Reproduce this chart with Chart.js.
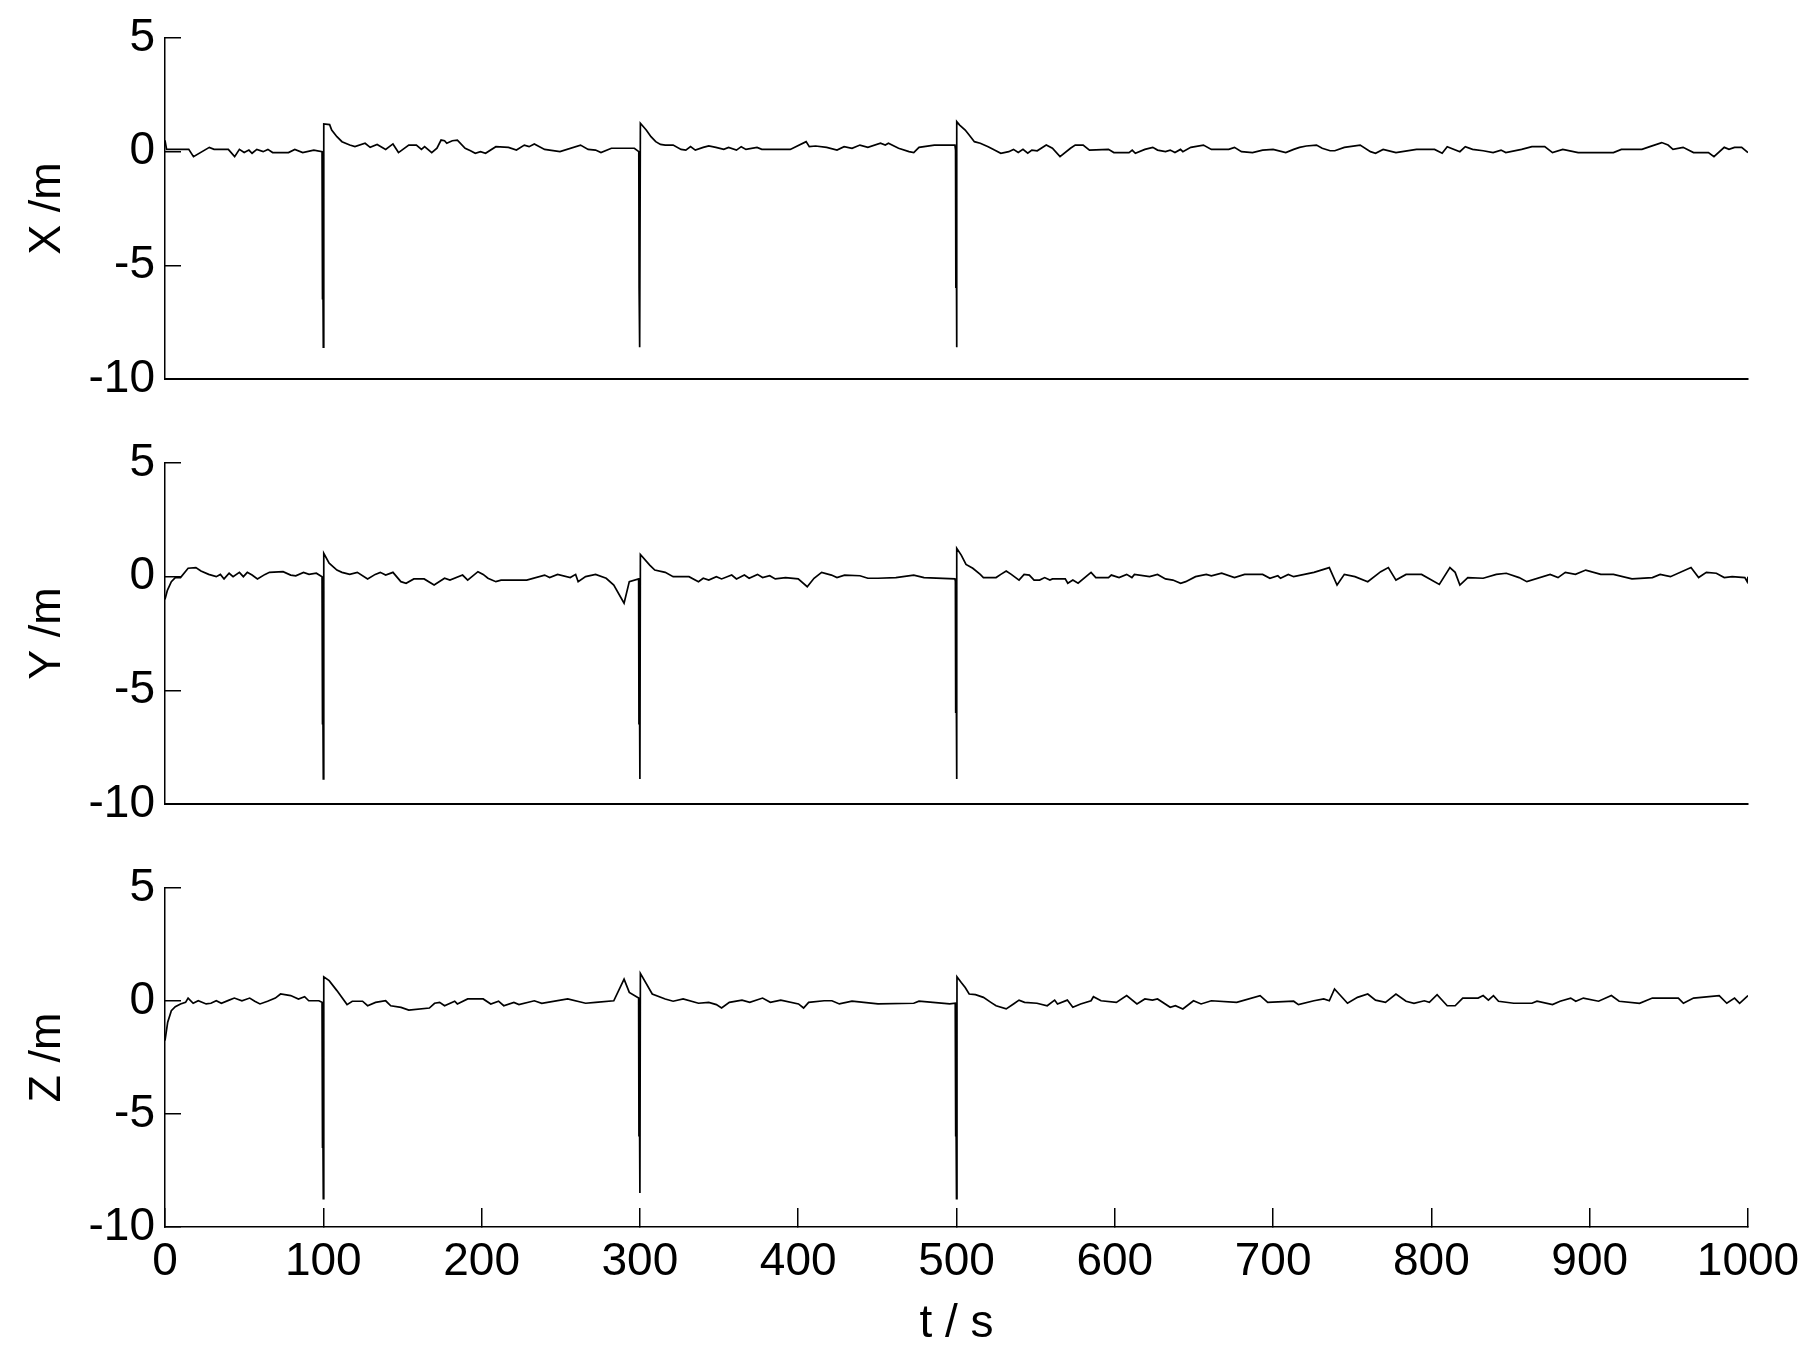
<!DOCTYPE html>
<html>
<head>
<meta charset="utf-8">
<script src="https://cdn.jsdelivr.net/npm/chart.js@4.4.1/dist/chart.umd.min.js"></script>
<style>
  html, body { margin: 0; padding: 0; background: #ffffff; }
  body { width: 1816px; height: 1360px; position: relative; overflow: hidden; }
  canvas { position: absolute; left: 0; }
</style>
</head>
<body>
<canvas id="cX" width="1816" height="420" style="top:0px"></canvas>
<canvas id="cY" width="1816" height="420" style="top:420px"></canvas>
<canvas id="cZ" width="1816" height="520" style="top:840px"></canvas>
<script>
// ---------------- DATA ----------------
const xTickValues = [0, 100, 200, 300, 400, 500, 600, 700, 800, 900, 1000];
const yTickValues = [-10, -5, 0, 5];
const panelTitles = ['X /m', 'Y /m', 'Z /m'];
const timeTitle = 't / s';

// X /m
const xTimes = [0, 1, 15, 18, 28, 31, 40, 44, 47, 50, 53, 55, 58, 62, 65, 68, 78, 82, 87, 94, 99.2,
  99.4, 99.6, 100, 100.3, 104, 105.3, 108.6, 111.8, 116.7, 120, 126.4, 129.6, 134, 139.4, 144, 147.5, 154, 158.8,
  162, 164, 168.5, 171.8, 174.4, 176.6, 178, 181.5, 184.7, 189.6, 193, 196, 199.3, 202.5, 209, 217, 222, 227,
  230, 233.3, 239.8, 243, 249.5, 262.5, 267.3, 272, 275.4, 282, 296.5, 299.3,
  299.5, 299.7, 300, 300.3, 304, 307, 310, 313, 316, 321, 326, 329, 332, 335, 340, 343.5, 348, 353, 356, 361,
  364, 367, 374, 377, 395, 405, 407, 411, 418, 424.5, 429, 434, 439, 444, 452, 455, 457, 463.4, 470, 473,
  476.3, 486, 499, 499.4,
  499.6, 499.8, 500, 500.3, 502, 505.5, 508, 511.3, 515, 520, 524, 528, 533, 536, 539, 542, 545, 547.6, 551,
  556.7, 560.6, 565.4, 572, 575, 580, 584, 596, 599.4, 609, 611, 613, 619, 624, 627, 632, 635, 638, 641.5,
  643, 648, 656, 661, 672, 675.6, 680, 687, 693.4, 700, 708, 713, 716.7, 721, 727.4, 731, 736, 739, 745,
  755, 761.5, 764.7, 769.5, 777.6, 790.6, 802, 806.8, 810, 818, 821.4, 826, 832.7, 839, 844, 847, 857,
  863.5, 871.6, 876.5, 883, 892.7, 915, 920, 933, 938, 945.5, 949.5, 952.6, 959, 965.6, 975, 978.5, 985,
  988, 991.5, 996, 1000];
const xValues = [0.5, 0.1, 0.1, -0.22, 0.19, 0.1, 0.1, -0.22, 0.1, -0.04, 0.07, -0.07, 0.1, 0.0, 0.1, -0.04, -0.04, 0.1, -0.04, 0.07, 0.0,
  -6.5, -2.0, -8.6, 1.22, 1.19, 0.95, 0.66, 0.44, 0.29, 0.22, 0.37, 0.19, 0.32, 0.1, 0.34, -0.04, 0.29, 0.29,
  0.1, 0.22, -0.04, 0.15, 0.51, 0.48, 0.37, 0.48, 0.51, 0.15, 0.04, -0.07, 0.0, -0.07, 0.22, 0.19, 0.07, 0.29,
  0.22, 0.34, 0.1, 0.07, 0.0, 0.29, 0.1, 0.07, -0.04, 0.15, 0.15, 0.0,
  -6.0, -2.5, -8.6, 1.25, 0.95, 0.66, 0.44, 0.32, 0.29, 0.29, 0.1, 0.07, 0.22, 0.07, 0.19, 0.25, 0.19, 0.1, 0.19, 0.07,
  0.22, 0.1, 0.19, 0.1, 0.1, 0.44, 0.22, 0.25, 0.19, 0.07, 0.22, 0.15, 0.29, 0.19, 0.37, 0.29, 0.37, 0.15, 0.0, -0.04,
  0.19, 0.29, 0.29, 0.07,
  -6.0, -2.0, -8.6, 1.32, 1.17, 0.95, 0.73, 0.44, 0.37, 0.22, 0.07, -0.07, 0.0, 0.1, -0.04, 0.1, -0.07, 0.07, 0.04,
  0.29, 0.15, -0.22, 0.15, 0.29, 0.29, 0.07, 0.1, -0.04, -0.04, 0.07, -0.07, 0.1, 0.19, 0.07, 0.0, 0.07, -0.04, 0.1,
  0.0, 0.19, 0.29, 0.1, 0.1, 0.19, 0.0, -0.04, 0.07, 0.1, -0.04, 0.1, 0.19, 0.25, 0.29, 0.15, 0.04, 0.04, 0.19,
  0.29, 0.0, -0.07, 0.1, -0.04, 0.1, 0.1, -0.07, 0.22, 0.0, 0.22, 0.1, 0.04, -0.04, 0.07, -0.04, 0.1,
  0.22, 0.22, -0.04, 0.1, -0.04, -0.04, 0.1, 0.1, 0.22, 0.4, 0.29, 0.1, 0.19, -0.04, -0.04, -0.22, 0.19,
  0.1, 0.19, 0.19, -0.04];

// Y /m
const yTimes = [0, 1.5, 4, 6.5, 9.8, 14.6, 19.5, 22.7, 27.6, 32.4, 35, 37.3, 40.5, 43, 47, 49.5, 52, 55, 58.4, 63.2,
  66, 74.6, 79.4, 82.6, 87.5, 91, 95.6, 99.2,
  99.4, 99.6, 100, 100.3, 103.7, 108.6, 111.8, 116.7, 121.5, 128, 132.8, 136, 139.4, 144, 149, 152.3, 157.2,
  163.7, 170, 176.6, 180, 188, 191.2, 197.7, 201, 204, 209, 212.3, 228.5, 239.8, 243, 248, 256, 259.4, 261,
  265.7, 272, 278.7, 283.5, 290, 293.3, 299.2,
  299.4, 299.6, 300, 300.3, 306.2, 309.4, 316, 321, 331, 337, 340, 343.5, 348.3, 351.6, 358, 361, 366, 369,
  374.3, 377.5, 382, 385.5, 392, 400, 405.7, 410, 414.8, 421, 424.5, 429.3, 439, 444, 450.4, 461.7, 473, 479.5,
  499, 499.3,
  499.5, 499.7, 500, 500.3, 503, 506, 510.3, 515, 517, 525, 528, 531.4, 534.6, 539.5, 542.7, 546, 549, 552.5,
  555.7, 559, 560.6, 568.7, 570.3, 573.5, 576.8, 585, 588, 596, 597.8, 602.7, 607.5, 610.8, 612.4, 622, 627,
  632, 636.7, 641.6, 644.8, 651, 657.8, 661, 667.5, 675.6, 682, 693.4, 698, 703, 704.7, 709.6, 713, 725.8,
  735.5, 740.4, 745, 751.7, 759.8, 768, 772.8, 777.6, 784, 793.8, 805, 811.7, 815, 818, 823, 832.7, 841,
  847.3, 855.4, 860.3, 875, 880, 884.6, 891, 897.5, 907, 915, 926.7, 939.6, 944.5, 951, 964, 968.8, 973.7,
  980, 985, 990, 998, 999.5, 1000];
const yValues = [-1.0, -0.6, -0.22, -0.04, -0.04, 0.37, 0.4, 0.25, 0.1, 0.0, 0.1, -0.1, 0.15, 0.0, 0.19, 0.0, 0.19, 0.07, -0.1, 0.1,
  0.19, 0.22, 0.07, 0.04, 0.19, 0.1, 0.15, 0.0,
  -6.5, -2.5, -8.9, 1.03, 0.59, 0.29, 0.19, 0.1, 0.19, -0.1, 0.1, 0.19, 0.07, 0.19, -0.22, -0.29, -0.1,
  -0.1, -0.37, -0.07, -0.15, 0.07, -0.15, 0.22, 0.1, -0.07, -0.22, -0.15, -0.15, 0.07, -0.04, 0.1, -0.04, 0.1, -0.22,
  0.0, 0.1, -0.07, -0.37, -1.17, -0.22, -0.1,
  -6.5, -2.5, -8.9, 0.98, 0.51, 0.29, 0.19, 0.0, 0.0, -0.22, -0.07, -0.15, 0.0, -0.1, 0.07, -0.1, 0.07, -0.07,
  0.1, -0.04, 0.04, -0.1, -0.04, -0.1, -0.44, -0.07, 0.19, 0.07, -0.04, 0.07, 0.04, -0.07, -0.07, -0.04, 0.07, -0.04,
  -0.1, -0.2,
  -6.0, -2.5, -8.9, 1.25, 0.95, 0.54, 0.37, 0.1, -0.04, -0.04, 0.1, 0.25, 0.1, -0.15, 0.1, 0.07, -0.15, -0.15,
  -0.04, -0.15, -0.1, -0.1, -0.29, -0.15, -0.29, 0.19, -0.04, -0.04, 0.07, -0.04, 0.1, -0.04, 0.1, 0.0, 0.1,
  -0.1, -0.15, -0.29, -0.22, 0.0, 0.1, 0.04, 0.15, -0.04, 0.1, 0.1, -0.07, 0.04, -0.07, 0.1, 0.0, 0.19,
  0.4, -0.37, 0.1, 0.0, -0.22, 0.22, 0.4, -0.15, 0.1, 0.1, -0.34, 0.4, 0.19, -0.37, -0.04, -0.07, 0.1,
  0.15, -0.04, -0.22, 0.1, -0.04, 0.19, 0.1, 0.29, 0.1, 0.1, -0.1, -0.04, 0.1, 0.0, 0.4, -0.04, 0.19,
  0.15, -0.04, 0.0, -0.04, -0.22, 0.0];

// Z /m
const zTimes = [0, 1.7, 4, 6.5, 9.8, 13, 14.6, 17.8, 21, 26, 29, 32.4, 35.6, 40.5, 43.8, 48.6, 53.5, 56.7, 60, 64.8,
  69.7, 73, 79.4, 84.3, 88.2, 90.8, 97.2, 99.2,
  99.4, 99.6, 100, 100.3, 103.7, 108.6, 115, 118.3, 124.8, 128, 133, 139.4, 142.6, 149.1, 154, 167, 170.3, 173.5,
  176.6, 183, 184.7, 191.2, 201, 205.8, 210.7, 214, 220.4, 223.6, 233.3, 238, 254.4, 265.7, 272, 283.5, 290,
  293.3, 299.2,
  299.4, 299.6, 300, 300.3, 307.8, 316, 321, 327.3, 337, 343.5, 348.3, 351.6, 356.5, 364.5, 369.4, 377.5, 382.4,
  389, 400.2, 403.4, 406.6, 416.4, 421.3, 426, 434, 450.4, 473, 476.3, 495.7, 499.2,
  499.4, 499.6, 500, 500.3, 503, 505.5, 508, 512, 517, 521.7, 525, 531.4, 536, 539.5, 543, 550.8, 557.3, 562,
  563.8, 570, 573.5, 578.4, 585, 586.5, 591.3, 601, 607.5, 614, 619, 623.8, 627, 635, 638.3, 643, 649.7, 654.5,
  661, 677, 691.8, 696.6, 713, 716, 725.8, 732, 735.5, 738.8, 747, 753.3, 759.8, 764.7, 771, 777.6, 784, 789,
  795.5, 798.7, 803.6, 810, 815, 819.8, 829.5, 832.7, 836, 839.2, 842.4, 852, 863.5, 866.7, 876.5, 881.3, 888,
  891.2, 896, 905.6, 913.7, 918.6, 931.5, 939.6, 956, 959.2, 965.6, 981.8, 986.6, 991.5, 994.7, 1000];
const zValues = [-1.75, -0.94, -0.43, -0.25, -0.13, -0.06, 0.13, -0.1, 0.01, -0.13, -0.1, 0.01, -0.1, 0.04, 0.13, 0.01, 0.13, -0.01, -0.13, -0.01,
  0.13, 0.31, 0.24, 0.09, 0.19, 0.01, 0.01, -0.06,
  -6.5, -2.5, -8.75, 1.07, 0.9, 0.46, -0.16, -0.01, -0.01, -0.21, -0.06, 0.01, -0.21, -0.28, -0.4, -0.31, -0.1, -0.06,
  -0.21, -0.01, -0.13, 0.09, 0.09, -0.13, -0.01, -0.21, -0.06, -0.16, 0.01, -0.1, 0.09, -0.1, -0.06, 0.01, 0.97,
  0.38, 0.13,
  -6.0, -2.5, -8.5, 1.22, 0.31, 0.09, -0.01, 0.09, -0.1, -0.06, -0.16, -0.31, -0.06, 0.04, -0.06, 0.13, -0.06,
  0.04, -0.13, -0.31, -0.06, 0.01, 0.01, -0.13, -0.01, -0.13, -0.1, -0.01, -0.13, -0.1,
  -6.0, -2.5, -8.75, 1.07, 0.82, 0.6, 0.31, 0.28, 0.16, -0.06, -0.21, -0.35, -0.13, 0.04, -0.06, -0.1, -0.21, 0.04,
  -0.13, 0.04, -0.28, -0.13, 0.01, 0.19, 0.01, -0.06, 0.24, -0.13, 0.09, 0.04, 0.09, -0.28, -0.21, -0.35, 0.01, -0.13,
  0.01, -0.06, 0.24, -0.06, -0.01, -0.16, 0.01, 0.09, 0.01, 0.53, -0.1, 0.16, 0.31, 0.04, -0.06, 0.31, -0.01, -0.1,
  0.01, -0.06, 0.28, -0.21, -0.21, 0.13, 0.13, 0.24, 0.04, 0.24, -0.01, -0.1, -0.1, -0.01, -0.16, -0.01, 0.13,
  -0.01, 0.13, -0.01, 0.24, -0.01, -0.1, 0.13, 0.13, -0.1, 0.13, 0.24, -0.1, 0.13, -0.1, 0.24];

// ---------------- CHARTS ----------------
const FONT = "'Liberation Sans', Arial, sans-serif";
const AREA_LEFT = 165;   // px from page left
const AREA_RIGHT = 1748; // px from page left

function makePanel(canvasId, times, values, title, areaTop, areaBottom, canvasHeight, isBottom) {
  const pts = times.map((t, i) => ({x: t, y: values[i]}));
  const xScaleHeight = canvasHeight - areaBottom;
  return new Chart(document.getElementById(canvasId), {
    type: 'line',
    data: {
      datasets: [{
        data: pts,
        borderColor: '#000000',
        borderWidth: 1.7,
        pointRadius: 0,
        tension: 0,
        fill: false
      }]
    },
    options: {
      responsive: false,
      animation: false,
      events: [],
      layout: { padding: { left: 0, right: 1816 - AREA_RIGHT, top: areaTop, bottom: 0 } },
      plugins: { legend: { display: false }, tooltip: { enabled: false } },
      scales: {
        x: {
          type: 'linear',
          min: 0,
          max: 1000,
          afterBuildTicks: (s) => { s.ticks = xTickValues.map(v => ({value: v})); },
          afterFit: (s) => {
            s.height = xScaleHeight;
            s.paddingLeft = 0; s.paddingRight = 0; s.paddingTop = 0; s.paddingBottom = 0;
          },
          grid: {
            display: true,
            drawOnChartArea: false,
            drawTicks: isBottom,
            tickLength: -19,
            color: '#000000',
            lineWidth: 1.5
          },
          border: { display: true, color: '#000000', width: isBottom ? 1.5 : 2 },
          ticks: {
            display: isBottom,
            autoSkip: false,
            maxRotation: 0,
            padding: 27,
            color: '#000000',
            font: { family: FONT, size: 46 },
            callback: (v) => String(v)
          },
          title: {
            display: isBottom,
            text: timeTitle,
            color: '#000000',
            font: { family: FONT, size: 46 },
            padding: { top: 0, bottom: 8 }
          }
        },
        y: {
          type: 'linear',
          min: -10,
          max: 5,
          afterBuildTicks: (s) => { s.ticks = yTickValues.map(v => ({value: v})); },
          afterFit: (s) => {
            s.width = AREA_LEFT;
            s.paddingLeft = 0; s.paddingRight = 0; s.paddingTop = 0; s.paddingBottom = 0;
          },
          grid: {
            display: true,
            drawOnChartArea: false,
            drawTicks: true,
            tickLength: -16,
            color: '#000000',
            lineWidth: 1.5
          },
          border: { display: true, color: '#000000', width: 1.5 },
          ticks: {
            padding: 26,
            color: '#000000',
            font: { family: FONT, size: 46 },
            callback: (v) => String(v)
          },
          title: {
            display: true,
            text: title,
            color: '#000000',
            font: { family: FONT, size: 45 },
            padding: { top: 21, bottom: 0 }
          }
        }
      }
    }
  });
}

makePanel('cX', xTimes, xValues, panelTitles[0], 38, 379, 420, false);
makePanel('cY', yTimes, yValues, panelTitles[1], 43, 384, 420, false);
makePanel('cZ', zTimes, zValues, panelTitles[2], 48, 387, 520, true);
</script>
</body>
</html>
